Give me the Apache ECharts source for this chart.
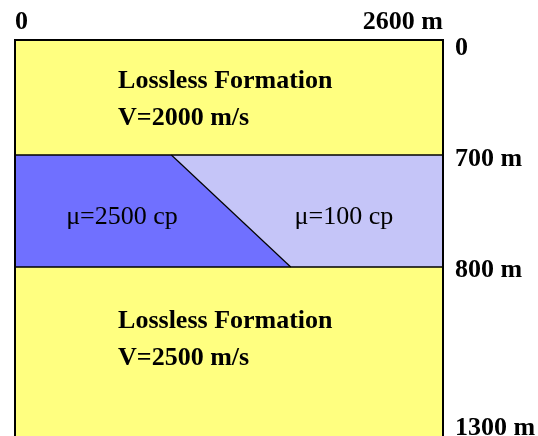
<!DOCTYPE html>
<html>
<head>
<meta charset="utf-8">
<script src="https://cdn.jsdelivr.net/npm/echarts@6/dist/echarts.min.js"></script>
<style>
html,body{margin:0;padding:0;background:#fff;}
#chart{width:538px;height:436px;}
</style>
</head>
<body>
<div id="chart"></div>
<script>
// ---- data ----
const horizontalExtent = [0, 2600];            // m
const xTickValues = [0, 2600];
const xTickLabels = ['0', '2600 m'];
const depthBoundaries = [0, 700, 800, 1300];   // m
const depthLabels = ['0', '700 m', '800 m', '1300 m'];
const interfaceTopX = 950;                     // viscosity interface at 700 m
const interfaceBottomX = 1675;                 // viscosity interface at 800 m
const formationNames = ['Lossless Formation', 'Lossless Formation'];
const velocityLabels = ['V=2000 m/s', 'V=2500 m/s'];
const viscosityLabels = ['μ=2500 cp', 'μ=100 cp'];

// ---- schematic layout (diagram is not to scale) ----
const rowOfBoundary = [0, 115, 227, 388];   // schematic rows for depthBoundaries
const labelRowOfBoundary = [8, 119, 230, 388];
const rowMax = 400;
function rowOf(depth) {
  for (let i = 0; i < depthBoundaries.length - 1; i++) {
    const d0 = depthBoundaries[i], d1 = depthBoundaries[i + 1];
    if (depth <= d1) {
      return rowOfBoundary[i] + (depth - d0) / (d1 - d0) * (rowOfBoundary[i + 1] - rowOfBoundary[i]);
    }
  }
  return rowMax;
}
const yLabelMap = {};
labelRowOfBoundary.forEach((r, i) => { yLabelMap[r] = depthLabels[i]; });
const xLabelMap = {};
xTickValues.forEach((v, i) => { xLabelMap[v] = xTickLabels[i]; });

const COLORS = { yellow: '#FFFF80', dark: '#7070FF', light: '#C5C5F8', line: '#000' };
const SERIF = '"Liberation Serif", "Times New Roman", serif';

const chart = echarts.init(document.getElementById('chart'));

function renderItem(params, api) {
  const X0 = horizontalExtent[0], X1 = horizontalExtent[1];
  const yTop = rowOf(depthBoundaries[0]);
  const y700 = rowOf(depthBoundaries[1]);
  const y800 = rowOf(depthBoundaries[2]);
  const yBot = rowMax;
  const c = (x, r) => api.coord([x, r]);
  const poly = (pts, fill) => ({ type: 'polygon', shape: { points: pts.map(p => c(p[0], p[1])) }, style: { fill: fill, stroke: null } });
  const line = (pts, w) => ({ type: 'polyline', shape: { points: pts.map(p => c(p[0], p[1])) }, style: { stroke: COLORS.line, lineWidth: w, fill: null } });
  const text = (x, r, s, opts) => {
    const p = c(x, r);
    return { type: 'text', x: p[0], y: p[1], style: Object.assign({ text: s, fill: '#000', fontFamily: SERIF, verticalAlign: 'middle' }, opts) };
  };
  const children = [
    poly([[X0, yTop], [X1, yTop], [X1, y700], [X0, y700]], COLORS.yellow),
    poly([[X0, y700], [interfaceTopX, y700], [interfaceBottomX, y800], [X0, y800]], COLORS.dark),
    poly([[interfaceTopX, y700], [X1, y700], [X1, y800], [interfaceBottomX, y800]], COLORS.light),
    poly([[X0, y800], [X1, y800], [X1, yBot], [X0, yBot]], COLORS.yellow),
    line([[interfaceTopX, y700], [interfaceBottomX, y800]], 1.2),
    line([[X0, y700], [X1, y700]], 1.5),
    line([[X0, y800], [X1, y800]], 1.5),
    line([[X0, yBot], [X0, yTop], [X1, yTop], [X1, yBot]], 2),
    // layer annotations
    text(626, 41, formationNames[0], { fontSize: 26, fontWeight: 'bold', align: 'left' }),
    text(626, 78, velocityLabels[0], { fontSize: 26, fontWeight: 'bold', align: 'left' }),
    text(650, 177, viscosityLabels[0], { fontSize: 26, align: 'center' }),
    text(1998, 177, viscosityLabels[1], { fontSize: 26, align: 'center' }),
    text(626, 281, formationNames[1], { fontSize: 26, fontWeight: 'bold', align: 'left' }),
    text(626, 318, velocityLabels[1], { fontSize: 26, fontWeight: 'bold', align: 'left' })
  ];
  return { type: 'group', children: children };
}

chart.setOption({
  animation: false,
  grid: { left: 15, right: 95, top: 40, bottom: -4, containLabel: false, outerBoundsMode: 'none' },
  xAxis: {
    type: 'value', position: 'top', min: horizontalExtent[0], max: horizontalExtent[1],
    axisLine: { show: false }, axisTick: { show: false }, splitLine: { show: false },
    axisLabel: {
      customValues: xTickValues, margin: 5, alignMinLabel: 'left', alignMaxLabel: 'right',
      color: '#000', fontFamily: SERIF, fontWeight: 'bold', fontSize: 26,
      formatter: v => xLabelMap[v] !== undefined ? xLabelMap[v] : ''
    }
  },
  yAxis: {
    type: 'value', position: 'right', inverse: true, min: 0, max: rowMax,
    axisLine: { show: false }, axisTick: { show: false }, splitLine: { show: false },
    axisLabel: {
      customValues: labelRowOfBoundary, margin: 12, showMinLabel: true, showMaxLabel: true,
      color: '#000', fontFamily: SERIF, fontWeight: 'bold', fontSize: 26, align: 'left',
      formatter: v => yLabelMap[v] !== undefined ? yLabelMap[v] : ''
    }
  },
  series: [{
    type: 'custom', renderItem: renderItem, data: [[0, 0]], clip: false, silent: true
  }]
});
</script>
</body>
</html>
